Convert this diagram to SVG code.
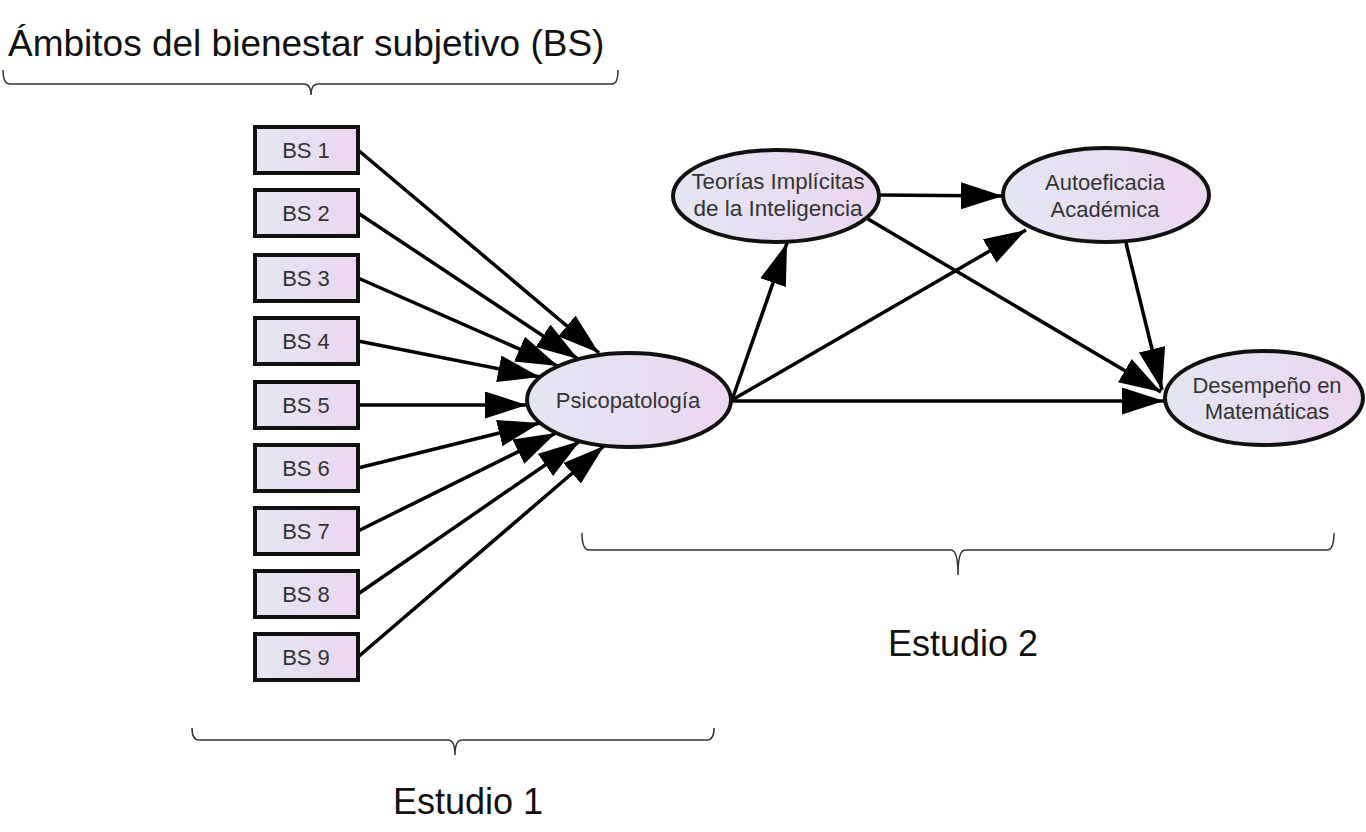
<svg xmlns="http://www.w3.org/2000/svg" width="1366" height="832" viewBox="0 0 1366 832">
<defs>
<linearGradient id="g" x1="0" y1="0" x2="1" y2="0">
<stop offset="0" stop-color="#e4e6f2"/>
<stop offset="1" stop-color="#ecd6f0"/>
</linearGradient>
<marker id="ah" markerUnits="userSpaceOnUse" markerWidth="44" markerHeight="30" refX="42" refY="13.5" orient="auto">
<path d="M0,0 L42,13.5 L0,27 Z" fill="#000"/>
</marker>
</defs>
<style>
.box{fill:url(#g);stroke:#111;stroke-width:4}
.ell{fill:url(#g);stroke:#111;stroke-width:4}
.lbl{font-family:"Liberation Sans",Arial,sans-serif;font-size:22px;fill:#333;text-anchor:middle}
.big{font-family:"Liberation Sans",Arial,sans-serif;fill:#111}
.con line{stroke:#000;stroke-width:3.5;marker-end:url(#ah)}
.br{fill:none;stroke:#333;stroke-width:1.5}
</style>
<rect width="1366" height="832" fill="#fff"/>
<text class="big" x="8" y="56" font-size="37">Ámbitos del bienestar subjetivo (BS)</text>
<path class="br" d="M3,70 Q3,84 10,84 L304,84 Q311,84 311,95 Q311,84 318,84 L612,84 Q618,84 618,70"/>
<path class="br" d="M192,728 Q192,740 199,740 L448,740 Q455,740 455,755 Q455,740 462,740 L707,740 Q714,740 714,728"/>
<path class="br" d="M582,533 Q582,550 589,550 L951,550 Q958,550 958,575 Q958,550 965,550 L1327,550 Q1334,550 1334,533"/>
<text class="big" x="888" y="656" font-size="36">Estudio 2</text>
<text class="big" x="393" y="814" font-size="36">Estudio 1</text>
<g class="con">
<line x1="358" y1="150" x2="599" y2="353"/>
<line x1="358" y1="213" x2="578" y2="359"/>
<line x1="358" y1="278" x2="558" y2="366"/>
<line x1="358" y1="341" x2="540" y2="377"/>
<line x1="358" y1="405" x2="527" y2="405"/>
<line x1="358" y1="468" x2="540" y2="423"/>
<line x1="358" y1="531" x2="556" y2="433"/>
<line x1="358" y1="594" x2="580" y2="441"/>
<line x1="358" y1="657" x2="604" y2="446"/>
<line x1="732" y1="400" x2="787" y2="243"/>
<line x1="732" y1="400" x2="1026" y2="230"/>
<line x1="732" y1="401" x2="1164" y2="401"/>
<line x1="879" y1="195" x2="1003" y2="196"/>
<line x1="868" y1="219" x2="1161" y2="392"/>
<line x1="1126" y1="243" x2="1162" y2="390"/>
</g>
<g id="bs1"><rect class="box" x="255" y="127" width="103" height="46"/><text class="lbl" x="306" y="158">BS 1</text></g>
<g id="bs2"><rect class="box" x="255" y="190" width="103" height="46"/><text class="lbl" x="306" y="221">BS 2</text></g>
<g id="bs3"><rect class="box" x="255" y="255" width="103" height="46"/><text class="lbl" x="306" y="286">BS 3</text></g>
<g id="bs4"><rect class="box" x="255" y="318" width="103" height="46"/><text class="lbl" x="306" y="349">BS 4</text></g>
<g id="bs5"><rect class="box" x="255" y="382" width="103" height="46"/><text class="lbl" x="306" y="413">BS 5</text></g>
<g id="bs6"><rect class="box" x="255" y="445" width="103" height="46"/><text class="lbl" x="306" y="476">BS 6</text></g>
<g id="bs7"><rect class="box" x="255" y="508" width="103" height="46"/><text class="lbl" x="306" y="539">BS 7</text></g>
<g id="bs8"><rect class="box" x="255" y="571" width="103" height="46"/><text class="lbl" x="306" y="602">BS 8</text></g>
<g id="bs9"><rect class="box" x="255" y="634" width="103" height="46"/><text class="lbl" x="306" y="665">BS 9</text></g>
<g id="psico"><ellipse class="ell" cx="629" cy="400" rx="102" ry="47"/><text class="lbl" x="628" y="408">Psicopatología</text></g>
<g id="teorias"><ellipse class="ell" cx="776" cy="196" rx="103" ry="46"/><text class="lbl" x="778" y="189" textLength="173" lengthAdjust="spacingAndGlyphs">Teorías Implícitas</text><text class="lbl" x="778" y="216" textLength="169" lengthAdjust="spacingAndGlyphs">de la Inteligencia</text></g>
<g id="autoef"><ellipse class="ell" cx="1106" cy="195" rx="103" ry="47"/><text class="lbl" x="1105" y="190">Autoeficacia</text><text class="lbl" x="1105" y="217">Académica</text></g>
<g id="desemp"><ellipse class="ell" cx="1264" cy="398" rx="99" ry="47"/><text class="lbl" x="1267" y="393">Desempeño en</text><text class="lbl" x="1267" y="419">Matemáticas</text></g>
</svg>
